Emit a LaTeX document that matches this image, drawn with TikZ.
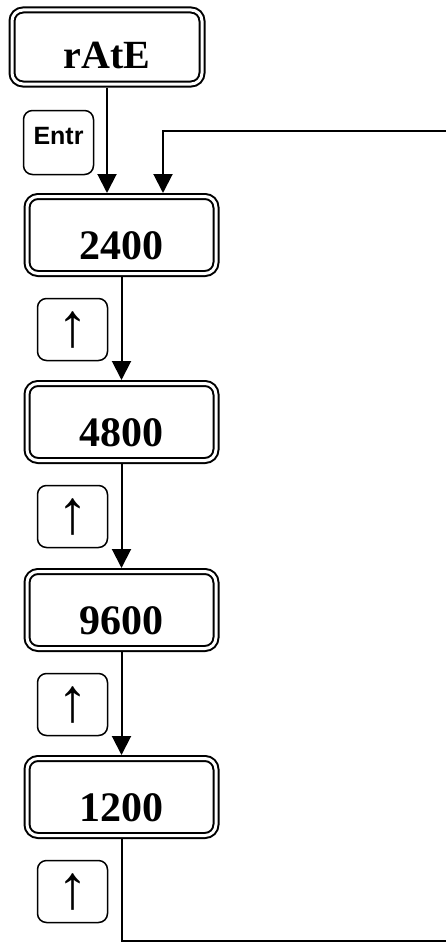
\documentclass[tikz,border=0pt]{standalone}
\usepackage{fontspec}
\setmainfont{Liberation Serif}
\setsansfont{Liberation Sans}
\usetikzlibrary{arrows.meta,positioning}
\tikzset{
  base/.style={text=black, inner sep=0pt},
  display/.style={base, rounded corners=11pt, draw=black, line width=2pt, double=white, double distance=3pt, outer sep=3.5pt, font=\bfseries\fontsize{42}{42}\selectfont, text height=48pt, text depth=0pt, minimum width=189pt, minimum height=77pt},
  title/.style={display, font=\bfseries\fontsize{40}{40}\selectfont, text height=42pt, minimum width=190pt, minimum height=74pt},
  keybox/.style={base, rounded corners=9pt, draw=black, line width=1.5pt, minimum width=70pt, minimum height=62pt},
  enter/.style={keybox, font=\sffamily\bfseries\fontsize{25}{25}\selectfont, text height=18pt, text depth=14pt, minimum height=64pt},
  up/.style={keybox, font=\fontsize{62}{62}\selectfont},
  arrow/.style={-{Triangle[length=19pt,width=19pt]}, line width=2pt, draw=black},
  line/.style={line width=2pt, draw=black},
}
\begin{document}
\begin{tikzpicture}[x=1pt,y=-1pt]
  \useasboundingbox (0,0) rectangle (446,942);

  \node[title] (rate) at (107,47) {rAtE};
  \node[enter] (entr) at (58.5,142.5) {Entr};

  \node[display] (s2400) at (121.5,235) {2400};
  \node[display] (s4800) at (121.5,422) {4800};
  \node[display] (s9600) at (121.5,610) {9600};
  \node[display] (s1200) at (121.5,797) {1200};

  \node[up] (k1) at (72.5,329.5) {↑};
  \node[up] (k2) at (72.5,516.5) {↑};
  \node[up] (k3) at (72.5,704.5) {↑};
  \node[up] (k4) at (72.5,891.5) {↑};

  \coordinate (loopin) at (446,131);
  \coordinate (loopout) at (446,941);

  \draw[arrow] (rate.south) -- (rate.south |- s2400.north);
  \draw[arrow] (loopin) -| ([xshift=41.5pt]s2400.north);
  \draw[arrow] (s2400.south) -- (s4800.north);
  \draw[arrow] (s4800.south) -- (s9600.north);
  \draw[arrow] (s9600.south) -- (s1200.north);
  \draw[line] (s1200.south) |- (loopout);
\end{tikzpicture}
\end{document}
